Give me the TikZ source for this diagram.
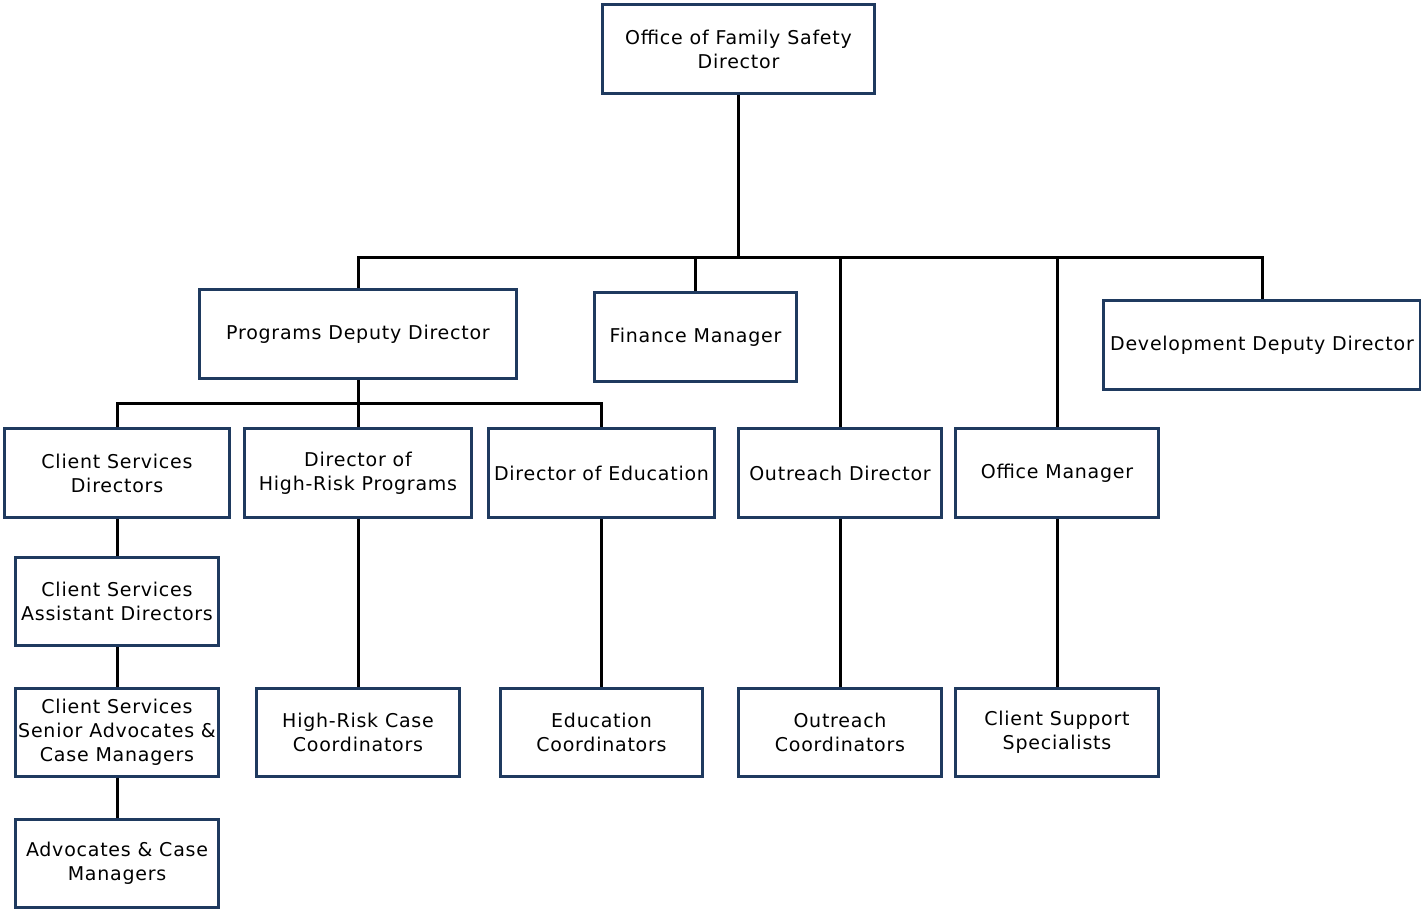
\documentclass[tikz,border=0pt]{standalone}
\usepackage{fontspec}
\setmainfont[LetterSpace=4]{DejaVu Sans}
\definecolor{boxnavy}{HTML}{1F3A5F}
\tikzset{
  orgbox/.style={draw=boxnavy, line width=2.8pt, fill=white, align=center, inner sep=1pt,
    font=\fontsize{19}{24}\selectfont, text=black},
  link/.style={draw=black, line width=3pt},
}
\newcommand{\obox}[6]{%
  \pgfmathsetmacro{\cx}{(#2+#4)/2}\pgfmathsetmacro{\cy}{(#3+#5)/2}%
  \pgfmathsetmacro{\ww}{#4-#2-2.8}\pgfmathsetmacro{\hh}{#5-#3-2.8}%
  \node[orgbox, minimum width=\ww pt, minimum height=\hh pt] (#1) at (\cx pt,-\cy pt) {#6};}
\begin{document}
\begin{tikzpicture}[x=1pt,y=1pt]
\useasboundingbox (0,0) rectangle (1421,-911);
\coordinate (busA) at (0,-257);
\coordinate (busB) at (0,-403);
\obox{top}{601}{3}{876}{95}{Office of Family Safety\\Director}
\obox{pdd}{198}{288}{518}{380}{Programs Deputy Director}
\obox{fin}{593}{291}{798}{383}{Finance Manager}
\obox{dev}{1102}{299}{1422}{391}{Development Deputy Director}
\obox{csd}{3}{427}{231}{519}{Client Services\\Directors}
\obox{hrp}{243}{427}{473}{519}{Director of\\High-Risk Programs}
\obox{edu}{487}{427}{716}{519}{Director of Education}
\obox{out}{737}{427}{943}{519}{Outreach Director}
\obox{off}{954}{427}{1160}{519}{Office Manager}
\obox{csa}{14}{556}{220}{647}{Client Services\\Assistant Directors}
\obox{css}{14}{687}{220}{778}{Client Services\\Senior Advocates \&\\Case Managers}
\obox{adv}{14}{818}{220}{909}{Advocates \& Case\\Managers}
\obox{hrc}{255}{687}{461}{778}{High-Risk Case\\Coordinators}
\obox{educ}{499}{687}{704}{778}{Education\\Coordinators}
\obox{outc}{737}{687}{943}{778}{Outreach\\Coordinators}
\obox{cssp}{954}{687}{1160}{778}{Client Support\\Specialists}
% top bus
\draw[link] (top.south) -- (top.south |- busA);
\draw[link] (pdd.north) -- (pdd.north |- busA) -| (dev.north);
\draw[link] (fin.north) -- (fin.north |- busA);
\draw[link] (out.north) -- (out.north |- busA);
\draw[link] (off.north) -- (off.north |- busA);
% second bus
\draw[link] (pdd.south) -- (hrp.north);
\draw[link] (csd.north) -- (csd.north |- busB) -| (edu.north);
% verticals
\draw[link] (csd.south) -- (csa.north);
\draw[link] (csa.south) -- (css.north);
\draw[link] (css.south) -- (adv.north);
\draw[link] (hrp.south) -- (hrc.north);
\draw[link] (edu.south) -- (educ.north);
\draw[link] (out.south) -- (outc.north);
\draw[link] (off.south) -- (cssp.north);
\end{tikzpicture}
\end{document}
